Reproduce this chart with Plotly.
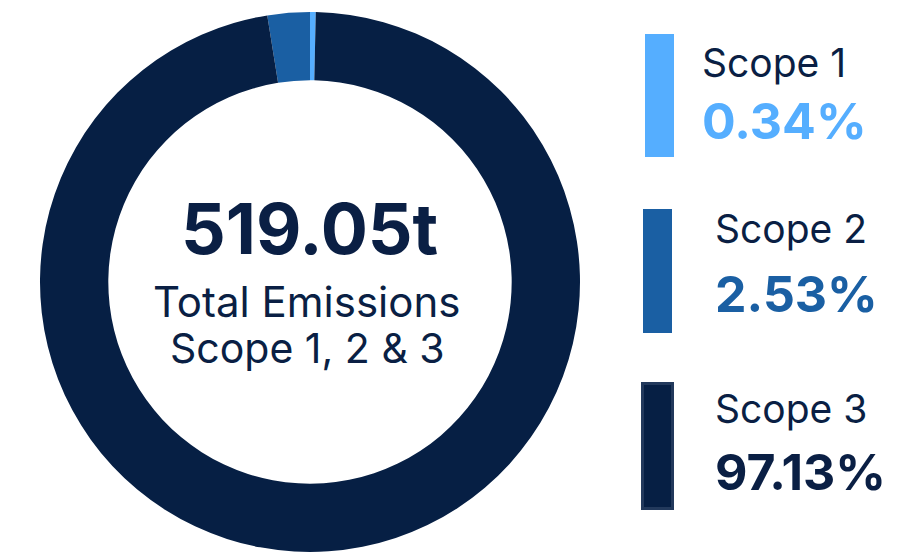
import plotly.graph_objects as go

# Data
scopes = ["Scope 1", "Scope 2", "Scope 3"]
shares = [0.34, 2.53, 97.13]
colors = ["#55AEFF", "#1A5FA3", "#061F44"]
total_label = "519.05t"
center_lines = ["Total Emissions", "Scope 1, 2 & 3"]

# page body has an 8px margin; figure sized to fit the window
OFF = 8
W, H = 907 - OFF, 553 - OFF
def px(x):
    return (x - OFF) / W
def py(y):
    return 1 - (y - OFF) / H

DARK = "#0A1F44"
FONT = "Inter"

fig = go.Figure(go.Pie(
    labels=scopes,
    values=shares,
    marker=dict(colors=colors, line=dict(width=0)),
    hole=0.747,
    sort=False,
    direction="counterclockwise",
    rotation=0,
    textinfo="none",
    hoverinfo="label+percent",
    domain=dict(x=[px(39), px(581)], y=[py(552), py(12)]),
    showlegend=False,
))

annotations = []
# center text
annotations.append(dict(text="<b>%s</b>" % total_label, x=px(309), y=py(228), xref="paper", yref="paper",
                        xanchor="center", yanchor="middle", showarrow=False,
                        font=dict(family=FONT, size=70, color=DARK)))
annotations.append(dict(text=center_lines[0], x=px(306), y=py(301), xref="paper", yref="paper",
                        xanchor="center", yanchor="middle", showarrow=False,
                        font=dict(family=FONT, size=42, color=DARK)))
annotations.append(dict(text=center_lines[1], x=px(307), y=py(348), xref="paper", yref="paper",
                        xanchor="center", yanchor="middle", showarrow=False,
                        font=dict(family=FONT, size=41, color=DARK)))

# legend blocks
bars = [(645, 674, 34, 157), (643, 672, 209, 333), (641, 674, 382, 510)]
label_pos = [(702, 62), (715, 229), (715, 408)]
pct_pos = [(702, 121), (715, 294), (715, 472)]
pct_colors = [colors[0], colors[1], DARK]

shapes = []
for i, s in enumerate(scopes):
    x0, x1, y0, y1 = bars[i]
    if i == 2:
        shapes.append(dict(type="rect", xref="paper", yref="paper",
                           x0=px(x0 + 1.5), x1=px(x1 - 1.5), y0=py(y1 - 1.5), y1=py(y0 + 1.5),
                           fillcolor=colors[i], line=dict(color="#22395C", width=3)))
    else:
        shapes.append(dict(type="rect", xref="paper", yref="paper",
                           x0=px(x0), x1=px(x1), y0=py(y1), y1=py(y0),
                           fillcolor=colors[i], line=dict(width=0)))
    lx, ly = label_pos[i]
    annotations.append(dict(text=s, x=px(lx - 2), y=py(ly), xref="paper", yref="paper",
                            xanchor="left", yanchor="middle", showarrow=False,
                            font=dict(family=FONT, size=39, color=DARK)))
    qx, qy = pct_pos[i]
    annotations.append(dict(text="<b>%.2f%%</b>" % shares[i], x=px(qx - 2), y=py(qy), xref="paper", yref="paper",
                            xanchor="left", yanchor="middle", showarrow=False,
                            font=dict(family=FONT, size=50, color=pct_colors[i])))

fig.update_layout(
    width=W, height=H,
    margin=dict(l=0, r=0, t=0, b=0),
    paper_bgcolor="white", plot_bgcolor="white",
    annotations=annotations, shapes=shapes,
)

fig.write_html("out.html")
